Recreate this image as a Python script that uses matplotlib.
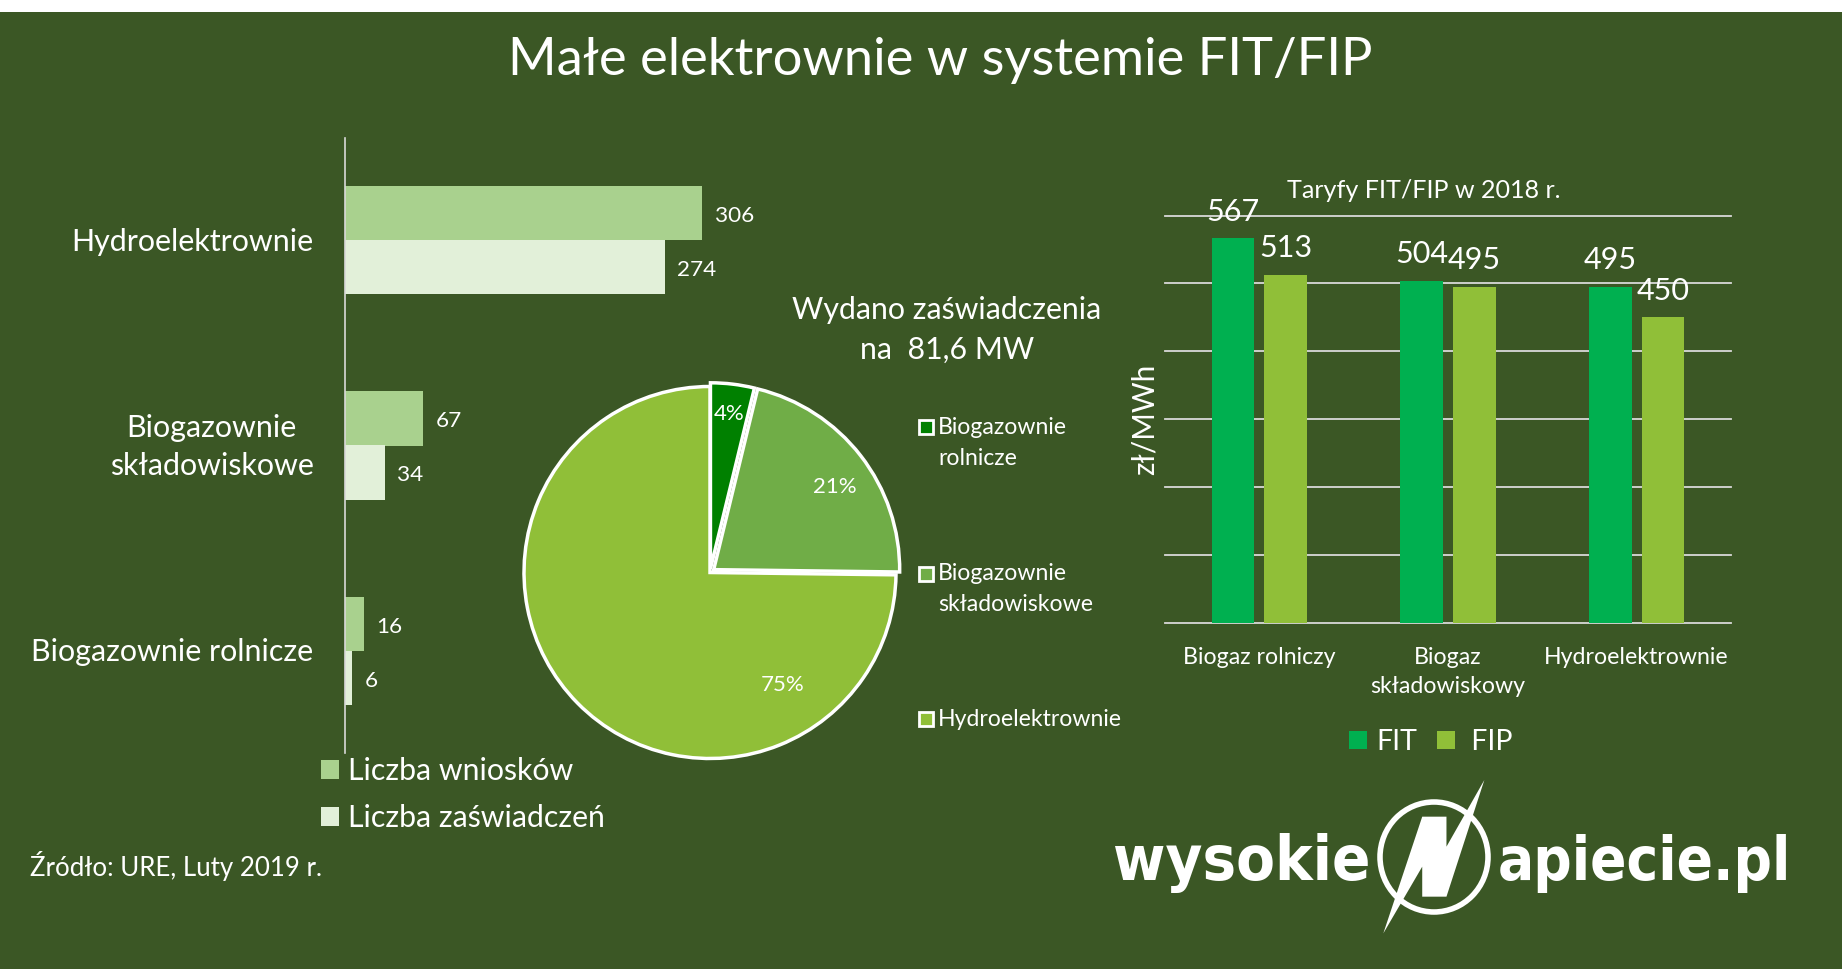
import matplotlib
matplotlib.use("Agg")
import matplotlib.pyplot as plt
from matplotlib import font_manager as fm
from matplotlib.patches import Rectangle, Polygon, Ellipse
from matplotlib.transforms import ScaledTranslation

W, H = 1842, 969
BG = "#3B5725"
plt.rcParams['font.family'] = ['Lato', 'DejaVu Sans']

title = "Małe elektrownie w systemie FIT/FIP"
source = "Źródło: URE, Luty 2019 r."

# left bars
left_categories = ["Biogazownie rolnicze", "Biogazownie\nskładowiskowe", "Hydroelektrownie"]
wnioski = [16, 67, 306]
zaswiadczenia = [6, 34, 274]

# pie
pie_title = "Wydano zaświadczenia\nna  81,6 MW"
pie_labels = ["Biogazownie\nrolnicze", "Biogazownie\nskładowiskowe", "Hydroelektrownie"]
pie_values = [3.8, 21.4, 74.8]
pie_colors = ["#008000", "#70AD47", "#90BF38"]

# right bars
right_title = "Taryfy FIT/FIP w 2018 r."
right_categories = ["Biogaz rolniczy", "Biogaz\nskładowiskowy", "Hydroelektrownie"]
fit = [567, 504, 495]
fip = [513, 495, 450]


def fx(x):
    return x / W


def fy(y):
    return 1 - y / H


def add_ax(l, t, r, b):
    ax = fig.add_axes([l / W, 1 - b / H, (r - l) / W, (b - t) / H])
    ax.patch.set_alpha(0)
    return ax


fig = plt.figure(figsize=(W / 100, H / 100), dpi=100, facecolor="white")
fig.add_artist(Rectangle((0, 0), 1, fy(12), transform=fig.transFigure, facecolor=BG, edgecolor="none", zorder=-5))

fig.text(fx(940), fy(60), title, color="white", fontsize=37.8, ha="center", va="center")

# ---------- left chart
ax1 = add_ax(345, 137.5, 753.5, 753.5)
ypos = range(len(left_categories))
bh = 0.263
b1 = ax1.barh([y + bh / 2 for y in ypos], wnioski, bh, color="#A9D18E", label="Liczba wniosków")
b2 = ax1.barh([y - bh / 2 for y in ypos], zaswiadczenia, bh, color="#E2F0D9", label="Liczba zaświadczeń")
ax1.set_xlim(0, 350)
ax1.set_ylim(-0.5, 2.5)
ax1.set_yticks(list(ypos), left_categories, color="white", fontsize=21.9, ha="right",
               multialignment="center", linespacing=1.43)
ax1.tick_params(axis="y", length=0, pad=22.7)
for lab in ax1.get_yticklabels():
    shift = 5.5 if "\n" in lab.get_text() else 1
    lab.set_transform(lab.get_transform() + ScaledTranslation(0, shift / 100, fig.dpi_scale_trans))
ax1.xaxis.set_visible(False)
for s in ("top", "right", "bottom"):
    ax1.spines[s].set_visible(False)
ax1.spines["left"].set_color("#D9D9D9")
ax1.spines["left"].set_linewidth(1.2)
for c in (b1, b2):
    for t in ax1.bar_label(c, padding=9, color="white", fontsize=16.2):
        t.xyann = (t.xyann[0], -2)
ax1.legend(loc="upper left", bbox_to_anchor=(fx(321), fy(757)), bbox_transform=fig.transFigure,
           frameon=False, labelcolor="white", fontsize=21.8, borderpad=0, borderaxespad=0,
           handlelength=0.6, handleheight=0.6, handletextpad=0.3, labelspacing=0.63)

fig.text(fx(30), fy(866), source, color="white", fontsize=18.6, ha="left", va="center")

# ---------- pie
R = 186
cx, cy = 710, 572.5
ax2 = add_ax(cx - 1.2 * R, cy - 1.2 * R, cx + 1.2 * R, cy + 1.2 * R)
wedges, _ = ax2.pie(pie_values, colors=pie_colors, startangle=90, counterclock=False,
                    explode=[0.02, 0.025, 0], radius=1,
                    wedgeprops=dict(edgecolor="white", linewidth=2.5, joinstyle="miter"))
ax2.set_xlim(-1.2, 1.2)
ax2.set_ylim(-1.2, 1.2)
ax2.set_aspect("equal")
for v, (px, py) in zip(pie_values, [(729, 414), (835, 487), (783, 685)]):
    fig.text(fx(px), fy(py), f"{v:.0f}%", color="white", fontsize=16, ha="center", va="center")

fig.text(fx(947), fy(330), pie_title, color="white", fontsize=21.8, ha="center", va="center", linespacing=1.48)

for lab, col, yc, yt in zip(pie_labels, pie_colors, (427, 574, 719), (443, 589, 720)):
    fig.add_artist(Rectangle((fx(919), fy(yc + 7)), 14 / W, 14 / H, transform=fig.transFigure,
                             facecolor=col, edgecolor="white", linewidth=2))
    fig.text(fx(938), fy(yt), lab, color="white", fontsize=16.6, ha="left", va="center", linespacing=1.55)

# ---------- right chart
ax3 = add_ax(1165, 215.6, 1731, 622.9)
bw = 0.2253
off = 0.14
xs = range(len(right_categories))
b3 = ax3.bar([x - off for x in xs], fit, bw, color="#00B050", label="FIT")
b4 = ax3.bar([x + off for x in xs], fip, bw, color="#90BF38", label=" FIP")
ax3.set_xlim(-0.5, 2.5)
ax3.set_ylim(0, 600)
ax3.set_yticks(range(0, 601, 100))
ax3.tick_params(axis="y", length=0, labelleft=False)
ax3.set_xticks(list(xs), right_categories, color="white", fontsize=16.7, linespacing=1.52)
ax3.tick_params(axis="x", length=0, pad=17)
ax3.grid(axis="y", color="#D9D9D9", linewidth=1.3)
ax3.set_axisbelow(True)
for s in ax3.spines.values():
    s.set_visible(False)
for g in ax3.get_ygridlines():
    g.set_clip_on(False)
for c in (b3, b4):
    ax3.bar_label(c, padding=9, color="white", fontsize=22)
ax3.legend(loc="center", bbox_to_anchor=(fx(1431), fy(742)), bbox_transform=fig.transFigure, ncols=2,
           frameon=False, labelcolor="white", fontsize=20.5, borderpad=0, borderaxespad=0,
           handlelength=0.62, handleheight=0.62, handletextpad=0.33, columnspacing=0.7)
fig.text(fx(1424), fy(190), right_title, color="white", fontsize=18.1, ha="center", va="center")
fig.text(fx(1145), fy(419), "zł/MWh", color="white", fontsize=21.4, ha="center", va="center", rotation=90)

# ---------- logo: narrowest bold sans available, sized so each word spans its reference width
cond = [f for f in fm.fontManager.ttflist
        if ("ondensed" in f.name or "Narrow" in f.name or str(f.stretch) in ("condensed", "semi-condensed"))
        and "CJK" not in f.name]
bold = [f for f in cond if str(f.weight) in ("bold", "700")] or cond
logo_prop = fm.FontProperties(fname=bold[0].fname) if bold else fm.FontProperties(family="Roboto", weight="bold")
renderer = fig.canvas.get_renderer()
for word, left, width in (("wysokie", 1113, 258), ("apiecie.pl", 1498, 294)):
    t = fig.text(fx(left), fy(880), word, color="white", fontproperties=logo_prop, fontsize=50,
                 ha="left", va="baseline")
    t.set_fontsize(50 * width / t.get_window_extent(renderer).width)
fig.add_artist(Ellipse((fx(1434), fy(857)), 108 / W, 110 / H, transform=fig.transFigure, facecolor="none",
                       edgecolor="white", linewidth=4))
bolt = [(860, 90), (785, 440), (737, 440), (737, 350), (660, 550), (737, 200), (785, 200), (785, 290)]
fig.add_artist(Polygon([(fx(1050 + a / 1.98), fy(750 + b / 3)) for a, b in bolt], closed=True,
                       transform=fig.transFigure, facecolor="white", edgecolor="none"))

fig.savefig("out.png", dpi=100, facecolor=fig.get_facecolor())
